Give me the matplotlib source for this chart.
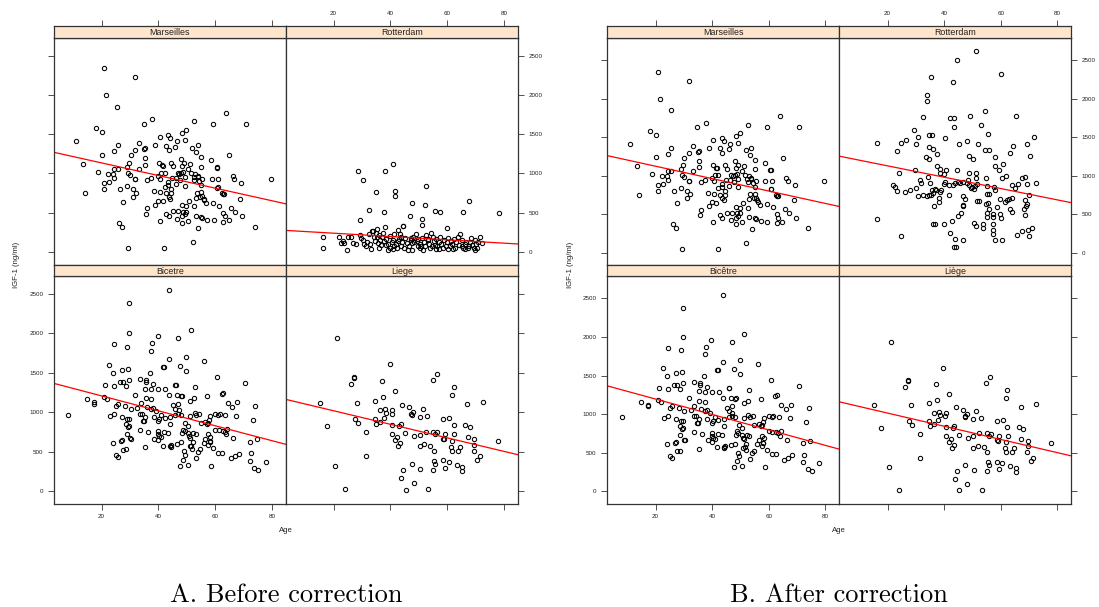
import numpy as np
import matplotlib
matplotlib.use('Agg')
import matplotlib.pyplot as plt

# ---- data (age, IGF-1 ng/ml) ----
marseilles = np.array([
    [20.8, 2343], [31.9, 2233], [21.6, 2001], [25.5, 1849], [37.9, 1688], [34.8, 1633], [63.8, 1772],
    [52.7, 1662], [59.4, 1633], [70.8, 1633], [18.1, 1582], [20.1, 1531], [10.8, 1413], [49.9, 1552],
    [48.4, 1510], [40.4, 1464], [43.5, 1489], [44.1, 1447], [49.3, 1426], [33.2, 1383], [25.6, 1358],
    [38.9, 1358], [42.7, 1354], [46.4, 1413], [46.0, 1341], [51.8, 1328], [53.8, 1358], [31.9, 1299],
    [34.9, 1311], [35.4, 1324], [43.6, 1299], [24.4, 1282], [30.2, 1235], [20.1, 1239], [53.3, 1269],
    [55.1, 1206], [65.0, 1235], [35.3, 1193], [47.9, 1184], [58.7, 1167], [13.5, 1121], [29.8, 1138],
    [35.2, 1108], [40.2, 1134], [41.3, 1104], [41.7, 1100], [44.4, 1138], [49.2, 1134], [51.3, 1125],
    [45.3, 1091], [48.5, 1095], [50.4, 1062], [55.2, 1083], [60.6, 1079], [60.8, 1075], [24.4, 1058],
    [25.6, 1058], [29.1, 1087], [33.2, 1058], [18.7, 1024], [29.4, 1002], [31.8, 935], [31.9, 928],
    [30.0, 981], [22.4, 998], [23.9, 994], [24.3, 943], [20.8, 884], [22.6, 893], [20.7, 799],
    [14.2, 749], [35.9, 918], [37.5, 948], [39.9, 973], [41.1, 1007], [42.2, 1011], [40.5, 931],
    [43.5, 897], [44.8, 939], [46.2, 939], [47.3, 998], [46.8, 1011], [47.9, 1007], [48.6, 1015],
    [46.1, 871], [47.6, 914], [49.3, 952], [49.3, 846], [51.6, 1011], [52.9, 994], [53.8, 973],
    [52.4, 952], [55.2, 854], [55.4, 926], [58.8, 926], [61.1, 931], [60.9, 829], [60.7, 820],
    [62.6, 753], [63.1, 736], [66.2, 969], [66.8, 935], [69.3, 884], [79.6, 931], [42.2, 833],
    [43.5, 854], [44.4, 799], [38.4, 778], [40.7, 761], [42.8, 749], [44.6, 749], [43.6, 706],
    [44.1, 677], [41.5, 647], [40.0, 656], [38.9, 605], [36.1, 558], [35.8, 482], [31.2, 799],
    [32.1, 757], [31.2, 706], [29.0, 842], [26.5, 803], [27.5, 643], [26.1, 368], [27.2, 313],
    [29.2, 47], [42.0, 51], [52.1, 123], [53.9, 309], [40.4, 398], [42.8, 482], [43.6, 453],
    [45.3, 520], [46.9, 520], [46.5, 427], [48.6, 508], [48.5, 453], [48.5, 372], [50.5, 393],
    [49.3, 478], [49.9, 512], [52.5, 580], [53.1, 457], [55.2, 448], [55.4, 431], [57.3, 410],
    [59.5, 402], [62.9, 381], [64.8, 402], [63.4, 453], [62.9, 503], [67.1, 508], [65.6, 567],
    [69.6, 453], [68.9, 677], [73.9, 321], [53.5, 757], [53.1, 694], [54.6, 706], [55.5, 715],
    [56.1, 660], [56.9, 618], [59.4, 626], [61.5, 592], [62.8, 736], [50.9, 647], [48.4, 596],
    [49.7, 580], [55.0, 761], [56.0, 681], [54.4, 901], [53.8, 956], [52.5, 918],
])

rotterdam_before = np.array([
    [28.6, 1032], [38.1, 1028], [40.8, 1117], [30.4, 918], [35.1, 770], [41.6, 778], [41.8, 719],
    [52.4, 838], [47.8, 630], [52.3, 605], [32.4, 529], [37.7, 516], [55.7, 520], [57.5, 508],
    [65.6, 508], [67.6, 647], [78.2, 499], [29.2, 406], [47.0, 461], [51.0, 419], [51.3, 338],
    [38.0, 321], [44.3, 326], [59.9, 300], [16.1, 186], [16.3, 55], [24.7, 25],
    [22.0, 186], [22.6, 114], [23.2, 144], [23.5, 110], [25.0, 186], [26.2, 186], [26.9, 114],
    [27.8, 102], [29.3, 212], [29.8, 178], [30.2, 148], [30.8, 102], [31.7, 123], [32.4, 228],
    [32.7, 102], [33.4, 262], [33.8, 271], [34.3, 190], [34.6, 144], [35.2, 292], [35.3, 190],
    [35.7, 114], [36.1, 51], [36.5, 157], [36.8, 93], [37.2, 190], [37.7, 135], [38.3, 93],
    [38.6, 165], [39.1, 102], [39.7, 51], [40.0, 207], [40.5, 123], [40.9, 157], [41.4, 228],
    [41.9, 102], [42.3, 51], [42.7, 283], [43.0, 165], [43.3, 228], [43.6, 72], [44.0, 127],
    [44.4, 330], [44.7, 51], [45.2, 182], [45.7, 114], [46.1, 30], [46.6, 80], [47.1, 148],
    [47.6, 110], [48.0, 190], [48.5, 123], [49.0, 228], [49.3, 135], [49.8, 72], [50.3, 102],
    [50.6, 51], [51.2, 182], [51.7, 123], [52.2, 72], [52.6, 216], [53.1, 148], [53.6, 102],
    [54.0, 51], [54.4, 241], [54.9, 190], [55.3, 135], [55.8, 93], [56.2, 165], [56.6, 72],
    [57.1, 123], [57.6, 190], [58.0, 102], [58.5, 51], [59.0, 148], [59.5, 80], [59.9, 123],
    [60.4, 182], [60.9, 72], [61.3, 135], [61.8, 102], [62.3, 165], [62.8, 51], [63.2, 123],
    [63.7, 190], [64.2, 93], [64.6, 228], [65.1, 148], [65.6, 51], [66.2, 102], [66.8, 123],
    [67.2, 51], [67.7, 72], [68.1, 123], [68.5, 182], [68.9, 93], [69.4, 51], [69.7, 157],
    [70.2, 102], [70.6, 51], [71.0, 123], [71.5, 190], [72.3, 114], [41.4, 72], [42.6, 135],
    [43.8, 186], [47.3, 178], [49.7, 165], [50.9, 80], [53.4, 165], [54.7, 80], [57.3, 38],
    [60.2, 38], [62.0, 38], [65.3, 72], [37.3, 241], [35.0, 241], [36.0, 220], [31.4, 72],
    [33.2, 38], [39.1, 30], [40.8, 38], [47.8, 30], [51.4, 30], [56.2, 38], [66.2, 38], [69.7, 30],
])

rotterdam_after = np.array([
    [51.4, 2617], [44.4, 2508], [60.0, 2318], [35.5, 2288], [43.2, 2214], [33.9, 2050], [33.9, 1977],
    [32.6, 1765], [41.9, 1752], [43.6, 1752], [49.3, 1782], [54.5, 1838], [65.2, 1773], [43.5, 1635],
    [52.9, 1661], [29.3, 1596], [30.7, 1501], [34.5, 1527], [35.6, 1527], [40.2, 1492], [55.5, 1544],
    [71.6, 1501], [16.2, 1423], [24.8, 1419], [26.4, 1470], [30.0, 1414], [45.3, 1414], [48.1, 1453],
    [52.0, 1406], [54.5, 1328], [56.0, 1336], [64.2, 1384], [63.4, 1298], [69.2, 1406], [23.2, 1323],
    [34.7, 1367], [36.1, 1349], [37.4, 1276], [33.6, 1241], [34.5, 1220], [48.6, 1259], [50.2, 1211],
    [57.8, 1237], [58.0, 1129], [60.8, 1155], [70.4, 1259], [24.1, 1038], [29.6, 1077], [37.4, 1125],
    [38.5, 1086], [40.7, 1077], [38.6, 1034], [40.0, 1025], [44.7, 1073], [48.8, 1038], [51.4, 1034],
    [51.4, 964], [54.9, 969], [59.3, 1068], [60.5, 969], [61.9, 990], [22.0, 874], [22.6, 852],
    [23.2, 796], [26.3, 783], [27.9, 809], [30.0, 835], [31.6, 938], [31.9, 904], [34.4, 982],
    [35.0, 904], [30.9, 735], [32.6, 744], [33.8, 740], [34.7, 744], [35.3, 753], [36.1, 774],
    [35.6, 817], [36.6, 826], [37.2, 809], [38.4, 791], [38.8, 809], [39.8, 895], [40.4, 917],
    [41.6, 882], [41.8, 753], [38.0, 714], [38.0, 662], [36.5, 606], [43.8, 904], [43.1, 882],
    [45.0, 917], [45.7, 908], [46.5, 917], [47.9, 904], [48.4, 938], [48.8, 882], [49.4, 839],
    [50.0, 852], [50.6, 830], [51.0, 869], [51.5, 895], [55.1, 861], [57.5, 856], [58.0, 809],
    [55.0, 757], [55.8, 757], [46.7, 731], [47.5, 696], [46.7, 623], [46.5, 606], [51.6, 675],
    [52.3, 675], [54.6, 627], [55.4, 649], [55.9, 567], [55.2, 515], [57.2, 502], [57.2, 458],
    [55.1, 458], [59.8, 692], [61.4, 657], [62.2, 688], [62.8, 701], [63.8, 714], [63.2, 567],
    [63.8, 532], [64.1, 874], [65.1, 839], [66.1, 887], [67.6, 969], [68.4, 982], [69.2, 891],
    [72.6, 908], [70.1, 748], [68.4, 688], [69.2, 631], [68.9, 606], [68.2, 562], [68.7, 484],
    [59.6, 506], [60.1, 454], [58.7, 588], [44.8, 471], [46.0, 515], [39.9, 376], [42.8, 415],
    [36.8, 368], [36.2, 376], [50.7, 385], [51.1, 346], [53.8, 368], [53.8, 320], [57.2, 368],
    [57.1, 290], [57.2, 238], [58.0, 160], [60.5, 164], [42.0, 251], [44.0, 177], [46.6, 169],
    [43.4, 69], [44.3, 69], [24.7, 212], [16.4, 441], [65.9, 229], [67.6, 277], [69.5, 290],
    [71.1, 320], [70.1, 212],
])

bicetre = np.array([
    [43.8, 2546], [29.7, 2378], [29.8, 1998], [51.4, 2036], [24.3, 1862], [29.0, 1829], [37.9, 1875],
    [39.7, 1964], [47.0, 1934], [37.5, 1778], [43.8, 1677], [49.9, 1698], [47.7, 1588], [56.1, 1651],
    [22.7, 1596], [24.0, 1499], [29.3, 1550], [27.3, 1533], [37.0, 1491], [41.7, 1571], [41.9, 1567],
    [49.8, 1520], [60.7, 1440], [21.3, 1339], [24.3, 1330], [26.4, 1385], [27.6, 1385], [28.6, 1330],
    [29.8, 1402], [33.5, 1423], [35.7, 1402], [35.6, 1381], [38.2, 1351], [42.5, 1292], [45.9, 1343],
    [46.1, 1339], [52.9, 1318], [70.6, 1372], [39.9, 1288], [37.5, 1288], [35.2, 1296], [43.8, 1212],
    [31.8, 1212], [46.7, 1216], [48.4, 1204], [51.1, 1144], [52.6, 1178], [57.2, 1199], [62.3, 1233],
    [62.9, 1246], [64.4, 1119], [67.7, 1123], [74.2, 1077], [14.7, 1161], [17.2, 1123], [17.4, 1106],
    [20.7, 1187], [22.0, 1161], [25.0, 1081], [25.9, 1102], [28.3, 1081], [30.2, 1043], [32.4, 1056],
    [33.7, 1111], [35.5, 1174], [37.5, 1161], [38.1, 1052], [39.1, 1018], [37.3, 1043], [36.0, 1064],
    [8.3, 967], [23.1, 946], [24.3, 971], [27.2, 933], [29.0, 912], [29.7, 916], [28.7, 853],
    [29.3, 815], [29.6, 820], [33.5, 980], [34.3, 980], [34.5, 891], [35.4, 933], [35.0, 888],
    [38.3, 942], [41.0, 963], [40.2, 916], [40.0, 883], [42.2, 921], [45.2, 1085], [46.0, 1043],
    [47.0, 1102], [48.1, 1199], [47.1, 1022], [47.0, 976], [47.9, 959], [46.0, 967], [44.2, 845],
    [44.2, 942], [49.5, 862], [50.4, 828], [51.1, 954], [52.8, 984], [53.4, 959], [54.5, 976],
    [54.9, 857], [57.2, 849], [58.0, 899], [58.2, 950], [56.5, 870], [57.5, 865], [59.9, 980],
    [61.1, 967], [61.6, 971], [63.5, 967], [66.0, 1064], [67.4, 950], [73.2, 895], [33.6, 769],
    [36.5, 747], [39.8, 756], [40.0, 722], [40.3, 693], [41.1, 680], [42.0, 748], [43.5, 735],
    [38.4, 663], [39.9, 646], [35.4, 553], [41.8, 570], [44.1, 574], [44.3, 560], [44.5, 586],
    [46.6, 600], [47.9, 621], [48.5, 735], [48.7, 777], [49.3, 760], [50.6, 735], [50.8, 697],
    [51.3, 676], [52.2, 731], [53.1, 722], [52.1, 621], [51.5, 570], [51.8, 536], [51.0, 566],
    [49.0, 502], [49.4, 456], [48.6, 393], [47.7, 321], [50.4, 334], [53.4, 418], [53.9, 498],
    [54.7, 528], [56.0, 612], [56.6, 663], [58.2, 688], [58.1, 625], [57.6, 717], [58.1, 633],
    [57.6, 587], [59.4, 540], [61.0, 486], [62.6, 481], [58.5, 312], [65.5, 414], [66.9, 439],
    [68.3, 473], [60.0, 777], [61.3, 769], [62.7, 764], [63.4, 752], [64.0, 722], [64.3, 781],
    [66.3, 667], [72.2, 625], [72.5, 477], [72.2, 376], [73.8, 287], [75.2, 270], [74.7, 659],
    [77.8, 372], [23.9, 612], [26.8, 633], [27.2, 642], [27.5, 524], [28.6, 528], [25.2, 456],
    [25.8, 435], [28.8, 726], [30.3, 663], [30.0, 670],
])

liege = np.array([
    [21.1, 1934], [39.7, 1605], [56.3, 1478], [54.9, 1406], [27.1, 1436], [27.3, 1440], [26.0, 1356],
    [37.1, 1398], [62.3, 1318], [61.7, 1212], [41.7, 1263], [37.3, 1191], [34.7, 1144], [15.2, 1115],
    [28.4, 1115], [67.1, 1098], [72.5, 1132], [44.1, 1090], [46.7, 1060], [51.4, 1039], [36.3, 1022],
    [38.2, 1035], [40.6, 1022], [40.4, 976], [38.4, 984], [37.7, 929], [47.9, 1005], [47.3, 980],
    [47.5, 959], [50.3, 942], [52.9, 950], [58.7, 912], [60.7, 921], [27.6, 908], [28.6, 866],
    [34.6, 912], [36.4, 870], [35.1, 845], [66.3, 840], [67.9, 807], [17.8, 828], [31.3, 747],
    [40.6, 836], [43.0, 819], [43.6, 845], [45.3, 731], [48.5, 697], [50.3, 714], [52.4, 752],
    [55.0, 752], [56.4, 747], [55.9, 722], [59.3, 718], [62.3, 832], [62.5, 722], [58.6, 663],
    [58.9, 660], [61.9, 638], [67.3, 680], [69.5, 659], [69.5, 587], [69.4, 511], [71.5, 439],
    [70.6, 397], [77.9, 633], [40.6, 722], [41.8, 646], [42.4, 680], [43.3, 608], [42.7, 566],
    [50.3, 566], [51.8, 591], [54.1, 574], [55.3, 507], [61.4, 557], [61.8, 511], [63.9, 511],
    [64.7, 557], [31.4, 439], [20.6, 317], [23.9, 21], [45.4, 13], [48.2, 101], [53.3, 21],
    [43.8, 160], [44.4, 270], [47.5, 346], [50.6, 283], [55.1, 270], [55.4, 384], [55.8, 338],
    [58.7, 388], [59.4, 287], [60.5, 363], [63.4, 325], [65.2, 300], [65.4, 253],
])

# fitted lines: order Marseilles, Rotterdam, Bicetre, Liege
intercept_before = [1295, 282, 1394, 1188]
slope_before = [-8.02, -2.11, -9.45, -8.57]
intercept_after = [1284, 1275, 1397, 1186]
slope_after = [-8.07, -7.38, -10.0, -8.54]

age_ticks = [20, 40, 60, 80]
igf_ticks = [0, 500, 1000, 1500, 2000, 2500]

W, H = 1099, 607
STRIP = '#FFE5CC'
EDGE = '#333333'
plt.rcParams['font.family'] = ['Liberation Sans', 'DejaVu Sans']


def box(left, top, right, bottom):
    return [left / W, 1 - bottom / H, (right - left) / W, (bottom - top) / H]


def style(ax):
    for s in ax.spines.values():
        s.set_color(EDGE)
        s.set_linewidth(0.9)
    ax.tick_params(direction='out', length=4, width=0.6, color=EDGE,
                   labelsize=4.5, labelcolor='#222222', pad=3.5)


def draw_lattice(fig, x0, x1, xlim, ylim, panels, intercepts, slopes, caption):
    xm = (x0 + x1) / 2
    rows = [(26, 38, 265), (265, 276, 504)]
    for i, (name, data) in enumerate(panels):
        r, c = divmod(i, 2)
        st, pt, pb = rows[r]
        left, right = (x0, xm) if c == 0 else (xm, x1)

        ax = fig.add_axes(box(left, pt, right, pb))
        ax.plot(data[:, 0], data[:, 1], 'o', ms=3.1, mfc='none', mec='black', mew=0.75)
        xs = np.array(xlim)
        ax.plot(xs, intercepts[i] + slopes[i] * xs, color='red', lw=0.9)
        ax.set_xlim(xlim)
        ax.set_ylim(ylim)
        style(ax)
        ax.set_xticks(age_ticks)
        ax.set_yticks(igf_ticks)
        ax.tick_params(top=False, bottom=(r == 1), labelbottom=(r == 1 and c == 0),
                       left=(c == 0), labelleft=(r == 1 and c == 0),
                       right=(c == 1), labelright=(r == 0 and c == 1))

        sx = fig.add_axes(box(left, st, right, pt))
        sx.set_facecolor(STRIP)
        sx.set_xlim(xlim)
        sx.set_yticks([])
        style(sx)
        sx.text(0.5, 0.45, name, transform=sx.transAxes, ha='center', va='center',
                fontsize=6.4, color='#222222')
        if r == 0:
            sx.set_xticks(age_ticks)
            sx.tick_params(bottom=False, labelbottom=False, top=True, labeltop=(c == 1))
        else:
            sx.set_xticks([])

    fig.text((x0 - 37) / W, 1 - 265 / H, 'IGF-1 (ng/ml)', rotation=90, ha='center', va='center',
             fontsize=5.6, color='#222222')
    fig.text(xm / W, 1 - 530 / H, 'Age', ha='center', va='center', fontsize=5.6, color='#222222')
    fig.text(xm / W, 1 - 595 / H, caption, ha='center', va='center', fontsize=19,
             family=['cmr10', 'DejaVu Serif'])


fig = plt.figure(figsize=(W / 100, H / 100), dpi=100)

draw_lattice(fig, 54, 518, (3.2, 85), (-165, 2725),
             [('Marseilles', marseilles), ('Rotterdam', rotterdam_before),
              ('Bicetre', bicetre), ('Liege', liege)],
             intercept_before, slope_before, 'A. Before correction')

draw_lattice(fig, 607, 1071, (2.85, 84.8), (-162, 2790),
             [('Marseilles', marseilles), ('Rotterdam', rotterdam_after),
              ('Bicêtre', bicetre), ('Liège', liege)],
             intercept_after, slope_after, 'B. After correction')

fig.savefig('out.png', dpi=100)
